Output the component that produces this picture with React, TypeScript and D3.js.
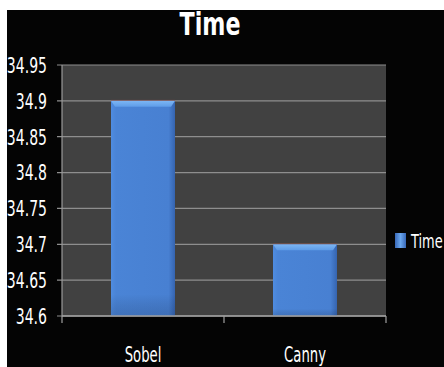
import * as d3 from 'd3';

// chart values
const categories = ['Sobel', 'Canny'];
const timeValues = [34.9, 34.7];
const yTickValues = [34.6, 34.65, 34.7, 34.75, 34.8, 34.85, 34.9, 34.95];
const seriesName = 'Time';
const chartTitle = 'Time';

const W = 444;
const H = 367;
const FONT = "'DejaVu Sans Condensed', 'Liberation Sans Narrow', sans-serif";

const plot = { left: 62, right: 386, top: 65, bottom: 316 };

const App = () => {
  const y = d3.scaleLinear().domain([34.6, 34.95]).range([plot.bottom, plot.top]);
  // category slots (for ticks + labels)
  const xCat = d3.scaleBand().domain(categories).range([plot.left, plot.right]).padding(0);
  // bars sit inside the slots
  const xBar = d3.scaleBand().domain(categories).range([plot.left, plot.right])
    .paddingInner(0.605).paddingOuter(0.3025);

  const bev = 4;
  const slotEdges = [...categories.map(c => xCat(c) as number), plot.right];

  return (
    <svg width={W} height={H} style={{ position: 'absolute', left: 0, top: 0 }}>
      <defs>
        <linearGradient id="barH" x1="0" x2="1" y1="0" y2="0">
          <stop offset="0" stopColor="#4f8ce0" />
          <stop offset="0.08" stopColor="#4a84d6" />
          <stop offset="0.9" stopColor="#4880d2" />
          <stop offset="1" stopColor="#3564b0" />
        </linearGradient>
        <linearGradient id="barV" x1="0" x2="0" y1="0" y2="1">
          <stop offset="0.9" stopColor="#000000" stopOpacity="0" />
          <stop offset="1" stopColor="#102040" stopOpacity="0.18" />
        </linearGradient>
        <linearGradient id="barTop" x1="0" x2="0" y1="0" y2="1">
          <stop offset="0" stopColor="#7cb6f4" />
          <stop offset="1" stopColor="#5e9ce8" />
        </linearGradient>
        <linearGradient id="legMark" x1="0" x2="1" y1="0" y2="0">
          <stop offset="0" stopColor="#3868b8" />
          <stop offset="0.5" stopColor="#6aa6ee" />
          <stop offset="1" stopColor="#3868b8" />
        </linearGradient>
      </defs>

      <rect x={0} y={0} width={W} height={H} fill="#ffffff" />
      <rect x={7} y={10} width={W - 7} height={H - 10} fill="#040404" />

      {/* plot area */}
      <rect x={plot.left} y={plot.top} width={plot.right - plot.left} height={plot.bottom - plot.top} fill="#414141" />

      {/* gridlines */}
      {yTickValues.map(t => (
        <line key={'g' + t} x1={plot.left - 5} x2={plot.right} y1={y(t)} y2={y(t)} stroke="#8e8e8e" strokeWidth={1.2} />
      ))}

      {/* bars */}
      {categories.map((c, i) => {
        const bx = xBar(c) as number;
        const bw = xBar.bandwidth();
        const by = y(timeValues[i]);
        const bh = plot.bottom - by;
        return (
          <g key={c}>
            <rect x={bx} y={by} width={bw} height={bh} fill="url(#barH)" />
            <rect x={bx} y={by} width={bw} height={bh} fill="url(#barV)" />
            <path d={`M${bx},${by} L${bx + bw},${by} L${bx + bw - bev},${by + bev + 2} L${bx + bev},${by + bev + 2} Z`} fill="url(#barTop)" />
            <line x1={bx} x2={bx + bw} y1={by - 0.5} y2={by - 0.5} stroke="#8a4a40" strokeWidth={1} opacity={0.6} />
          </g>
        );
      })}

      {/* axes */}
      <line x1={plot.left} x2={plot.left} y1={plot.top} y2={plot.bottom} stroke="#9a9a9a" strokeWidth={1.2} />
      <line x1={plot.left} x2={plot.right} y1={plot.bottom} y2={plot.bottom} stroke="#a0a0a0" strokeWidth={1.5} />
      {slotEdges.map(e => (
        <line key={'xt' + e} x1={e} x2={e} y1={plot.bottom} y2={plot.bottom + 7} stroke="#a0a0a0" strokeWidth={1.2} />
      ))}

      {/* y labels */}
      {yTickValues.map(t => (
        <text key={'yl' + t} transform={`translate(47,${y(t)}) scale(0.71,1)`} textAnchor="end" dy="0.36em"
          fill="#ffffff" fontFamily={FONT} fontSize={22}>{String(t)}</text>
      ))}

      {/* x labels */}
      {categories.map(c => (
        <text key={'xl' + c} transform={`translate(${(xCat(c) as number) + xCat.bandwidth() / 2},362) scale(0.7,1)`}
          textAnchor="middle" fill="#ffffff" fontFamily={FONT} fontSize={21}>{c}</text>
      ))}

      {/* title */}
      <text transform="translate(210,35) scale(0.77,1)" textAnchor="middle" fill="#ffffff" fontFamily={FONT}
        fontSize={32} fontWeight="bold">{chartTitle}</text>

      {/* legend */}
      <rect x={395} y={233} width={11} height={15} fill="url(#legMark)" />
      <text transform="translate(411,248) scale(0.72,1)" fill="#ffffff" fontFamily={FONT} fontSize={20}>{seriesName}</text>
    </svg>
  );
};

export default App;
